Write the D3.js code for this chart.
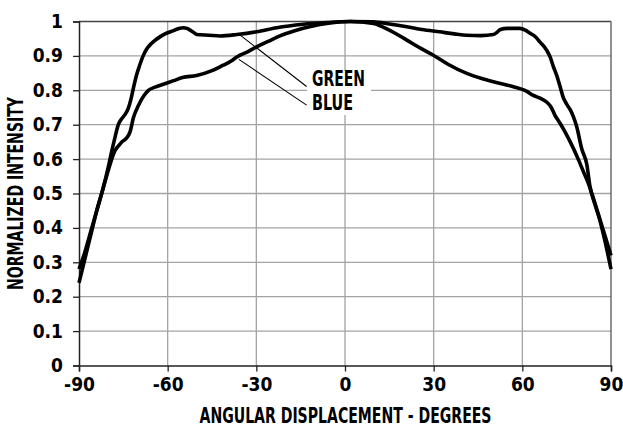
<!DOCTYPE html>
<html><head><meta charset="utf-8">
<script src="https://cdn.jsdelivr.net/npm/d3@7"></script>
<style>
body{margin:0;background:#fff;}
text{font-family:"Liberation Sans Narrow","DejaVu Sans Condensed","Liberation Sans",Arial,sans-serif;font-weight:bold;fill:#000;}
</style></head>
<body><svg id="c" width="623" height="428"></svg>
<script>
const xTicks = [-90,-60,-30,0,30,60,90];
const xTickLabels = ["-90","-60","-30","0","30","60","90"];
const yTicks = [0,0.1,0.2,0.3,0.4,0.5,0.6,0.7,0.8,0.9,1];
const yTickLabels = ["0","0.1","0.2","0.3","0.4","0.5","0.6","0.7","0.8","0.9","1"];
const seriesNames = ["GREEN","BLUE"];
const greenAngle = [-90,-88,-86,-84,-82,-80,-79,-77.8,-76.7,-75.5,-74.4,-73.3,-72.4,-71.5,-70.5,-69.5,-68.3,-67.1,-65.5,-64.3,-62.5,-60.9,-58.5,-56.4,-54.7,-53.5,-52.4,-51,-50.2,-46,-42.3,-36.6,-29.9,-23.1,-14.1,-6,1.7,9.6,15,20.9,26,32,37,41.2,46,50.2,51.5,52.4,55,59.2,61,62.6,64.5,66,68.2,69.4,70.5,71.6,72.8,73.9,75,76.1,77.2,78.4,80.1,81.8,82.9,84.5,86.3,88,90];
const greenValue = [0.24,0.31,0.38,0.45,0.51,0.58,0.62,0.664,0.70,0.718,0.73,0.748,0.775,0.81,0.845,0.872,0.9,0.92,0.936,0.945,0.956,0.964,0.972,0.979,0.982,0.98,0.975,0.967,0.962,0.96,0.958,0.962,0.97,0.982,0.992,0.997,1.0,0.999,0.993,0.985,0.977,0.97,0.964,0.96,0.959,0.962,0.969,0.976,0.98,0.98,0.975,0.966,0.955,0.94,0.917,0.897,0.869,0.844,0.81,0.778,0.76,0.745,0.725,0.694,0.63,0.585,0.52,0.47,0.42,0.36,0.28];
const blueAngle = [-90,-88,-86,-84,-82,-80,-77.8,-76.5,-75.5,-74,-72.7,-71.6,-69.9,-68,-66.5,-64,-61,-58,-55,-50.2,-45,-41.2,-38.5,-36.6,-33,-29.9,-26,-22,-17,-12,-5,2,9.6,15,20.9,25,29.9,35,41.2,46,50.2,55,59.2,61.5,63.7,66,68.2,69.8,71,72.7,74.4,76.5,78.9,80.6,82.3,85,87.5,90];
const blueValue = [0.28,0.33,0.39,0.45,0.51,0.57,0.625,0.64,0.65,0.66,0.68,0.72,0.756,0.785,0.80,0.81,0.819,0.828,0.837,0.843,0.857,0.873,0.885,0.897,0.912,0.926,0.942,0.958,0.973,0.985,0.996,1.0,0.994,0.975,0.946,0.925,0.902,0.875,0.849,0.835,0.825,0.815,0.805,0.797,0.785,0.777,0.766,0.75,0.728,0.705,0.68,0.645,0.60,0.565,0.53,0.46,0.39,0.32];

const svg = d3.select("#c");
const x = d3.scaleLinear().domain([-90,90]).range([79,611]);
const y = d3.scaleLinear().domain([0,1]).range([365.5,21.5]);

// grid
svg.append("g").selectAll("line").data(yTicks.slice(1,-1)).join("line")
  .attr("x1",x(-90)).attr("x2",x(90)).attr("y1",d=>y(d)).attr("y2",d=>y(d))
  .attr("stroke","#a3a3a3").attr("stroke-width",1.3);
svg.append("g").selectAll("line").data(xTicks.slice(1,-1)).join("line")
  .attr("x1",d=>x(d)).attr("x2",d=>x(d)).attr("y1",y(0)).attr("y2",y(1))
  .attr("stroke","#a3a3a3").attr("stroke-width",1.3);
// top/right border
svg.append("line").attr("x1",x(-90)).attr("x2",x(90)).attr("y1",y(1)).attr("y2",y(1)).attr("stroke","#444").attr("stroke-width",1.3);
svg.append("line").attr("x1",x(90)).attr("x2",x(90)).attr("y1",y(0)).attr("y2",y(1)).attr("stroke","#555").attr("stroke-width",1.3);

// axes
const xAxis = d3.axisBottom(x).tickValues(xTicks).tickSize(6).tickPadding(3).tickFormat((d,i)=>xTickLabels[i]);
const gx = svg.append("g").attr("transform",`translate(0,${y(0)})`).call(xAxis);
const yAxis = d3.axisLeft(y).tickValues(yTicks).tickSize(6).tickPadding(10).tickFormat((d,i)=>yTickLabels[i]);
const gy = svg.append("g").attr("transform",`translate(${x(-90)},0)`).call(yAxis);
[gx,gy].forEach(g=>{
  g.select(".domain").attr("stroke","#222").attr("stroke-width",1.5);
  g.selectAll(".tick line").attr("stroke","#222").attr("stroke-width",1.3);
  g.selectAll(".tick text").style("font-size","19px").attr("fill","#000");
});
gx.selectAll(".tick text").attr("dy","0.85em");

// label box + leaders
svg.append("rect").attr("x",307).attr("y",71).attr("width",64).attr("height",44).attr("fill","#fff");
const leaders = [[x(-35.7),y(0.962),x(-13),y(0.811)],[x(-35.9),y(0.89),x(-13),y(0.757)]];
svg.append("g").selectAll("line").data(leaders).join("line")
  .attr("x1",d=>d[0]).attr("y1",d=>d[1]).attr("x2",d=>d[2]).attr("y2",d=>d[3])
  .attr("stroke","#000").attr("stroke-width",1.1);
svg.append("g").selectAll("text").data(seriesNames).join("text")
  .attr("x",312).attr("y",(d,i)=>86+i*24).text(d=>d)
  .style("font-size","21px").attr("textLength",(d,i)=>i===0?53:41).attr("lengthAdjust","spacingAndGlyphs");

// curves
const line = d3.line().x(d=>x(d[0])).y(d=>y(d[1])).curve(d3.curveMonotoneX);
const green = greenAngle.map((a,i)=>[a,greenValue[i]]);
const blue = blueAngle.map((a,i)=>[a,blueValue[i]]);
svg.append("path").datum(blue).attr("d",line).attr("fill","none").attr("stroke","#000").attr("stroke-width",3.6).attr("stroke-linejoin","round");
svg.append("path").datum(green).attr("d",line).attr("fill","none").attr("stroke","#000").attr("stroke-width",3.6).attr("stroke-linejoin","round");

// titles
svg.append("text").attr("x",345.5).attr("y",423).attr("text-anchor","middle")
  .style("font-size","21px").attr("textLength",292).attr("lengthAdjust","spacingAndGlyphs")
  .text("ANGULAR DISPLACEMENT - DEGREES");
svg.append("text").attr("transform","translate(23,193.5) rotate(-90)").attr("text-anchor","middle")
  .style("font-size","21px").attr("textLength",193).attr("lengthAdjust","spacingAndGlyphs")
  .text("NORMALIZED INTENSITY");
</script></body></html>
